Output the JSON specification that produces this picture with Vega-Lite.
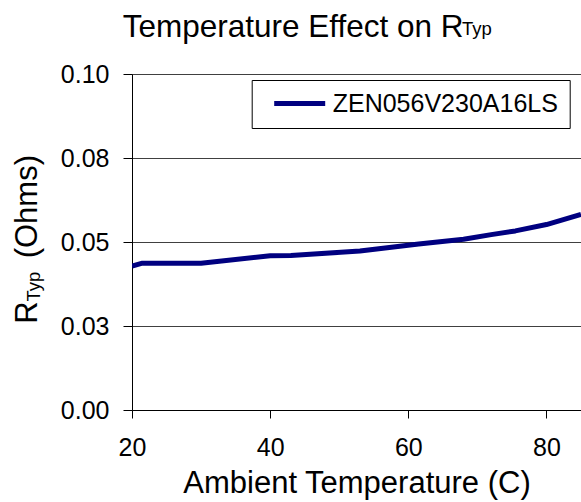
{
  "$schema": "https://vega.github.io/schema/vega-lite/v6.json",
  "width": 449,
  "height": 336,
  "autosize": "none",
  "padding": {"left": 132, "top": 74, "right": 0, "bottom": 92},
  "background": "white",
  "title": {
    "text": "Temperature Effect on R",
    "subtitle": "\u200b\u00a0\u00a0\u00a0\u00a0\u00a0\u00a0\u00a0\u00a0\u00a0\u00a0\u00a0\u00a0\u00a0\u00a0\u00a0\u00a0\u00a0\u00a0\u00a0\u00a0\u00a0\u00a0\u00a0\u00a0\u00a0\u00a0\u00a0\u00a0\u00a0\u00a0\u00a0\u00a0\u00a0\u00a0\u00a0\u00a0\u00a0\u00a0\u00a0\u00a0\u00a0\u00a0\u00a0\u00a0\u00a0\u00a0\u00a0\u00a0\u00a0\u00a0\u00a0\u00a0\u00a0\u00a0\u00a0\u00a0\u00a0\u00a0\u00a0\u00a0\u00a0\u00a0\u00a0\u00a0\u00a0\u00a0Typ",
    "anchor": "start",
    "frame": "group",
    "dx": -9.3,
    "offset": 18.5,
    "font": "Liberation Sans",
    "fontSize": 31.5,
    "fontWeight": "normal",
    "color": "black",
    "subtitleFont": "Liberation Sans",
    "subtitleFontSize": 18.5,
    "subtitleColor": "black",
    "subtitlePadding": -23.4
  },
  "config": {
    "font": "Liberation Sans",
    "view": {"stroke": "#808080", "strokeWidth": 1},
    "axis": {
      "labelFont": "Liberation Sans",
      "titleFont": "Liberation Sans",
      "labelColor": "black",
      "titleColor": "black",
      "domainColor": "black",
      "tickColor": "black",
      "titleFontWeight": "normal"
    },
    "legend": {
      "labelFont": "Liberation Sans"
    }
  },
  "data": {
    "values": [
      {"temp": 20, "r": 0.0428, "series": "ZEN056V230A16LS"},
      {"temp": 21.5, "r": 0.0437, "series": "ZEN056V230A16LS"},
      {"temp": 30, "r": 0.0437, "series": "ZEN056V230A16LS"},
      {"temp": 40, "r": 0.0459, "series": "ZEN056V230A16LS"},
      {"temp": 43, "r": 0.0460, "series": "ZEN056V230A16LS"},
      {"temp": 53, "r": 0.0473, "series": "ZEN056V230A16LS"},
      {"temp": 61.5, "r": 0.0494, "series": "ZEN056V230A16LS"},
      {"temp": 68, "r": 0.0508, "series": "ZEN056V230A16LS"},
      {"temp": 72, "r": 0.0522, "series": "ZEN056V230A16LS"},
      {"temp": 75.5, "r": 0.0533, "series": "ZEN056V230A16LS"},
      {"temp": 80, "r": 0.0552, "series": "ZEN056V230A16LS"},
      {"temp": 85, "r": 0.0582, "series": "ZEN056V230A16LS"}
    ]
  },
  "resolve": {"axis": {"y": "independent"}},
  "layer": [
    {
      "mark": {"type": "line", "strokeWidth": 5, "strokeJoin": "round", "strokeCap": "butt", "clip": true},
      "encoding": {
        "x": {
          "field": "temp",
          "type": "quantitative",
          "scale": {"domain": [20, 85], "nice": false, "zero": false},
          "axis": {
            "values": [20, 40, 60, 80],
            "grid": false,
            "tickSize": 8,
            "labelPadding": 17,
            "labelFontSize": 25,
            "labelFlush": false,
            "title": "Ambient Temperature (C)",
            "titleFontSize": 31,
            "titleBaseline": "alphabetic",
            "titleY": 82
          }
        },
        "y": {
          "field": "r",
          "type": "quantitative",
          "scale": {"domain": [0, 0.1], "nice": false, "zero": true},
          "axis": {
            "orient": "left",
            "values": [0, 0.025, 0.05, 0.075, 0.1],
            "labelExpr": "format(datum.value + 1e-9, '.2f')",
            "grid": true,
            "gridColor": "#404040",
            "gridWidth": 1,
            "tickSize": 9,
            "labelPadding": 14,
            "labelFontSize": 25,
            "labelFlush": false,
            "title": "R\u00a0\u00a0\u00a0\u00a0\u00a0(Ohms)",
            "titleFontSize": 31,
            "titleAngle": -90,
            "titleAlign": "left",
            "titleBaseline": "alphabetic",
            "titleX": -95.3,
            "titleY": 249.3
          }
        },
        "color": {
          "field": "series",
          "type": "nominal",
          "scale": {"range": ["#000080"]},
          "legend": {
            "title": null,
            "orient": "none",
            "legendX": 119.7,
            "legendY": 6,
            "padding": 11,
            "strokeColor": "black",
            "fillColor": "white",
            "symbolType": "stroke",
            "symbolSize": 2601,
            "symbolStrokeWidth": 5,
            "symbolOffset": 9,
            "clipHeight": 25,
            "labelFontSize": 25,
            "labelColor": "black",
            "labelOffset": 5,
            "labelLimit": 400
          }
        }
      }
    },
    {
      "mark": {"type": "line", "opacity": 0, "clip": true},
      "encoding": {
        "x": {"field": "temp", "type": "quantitative"},
        "y": {
          "field": "r",
          "type": "quantitative",
          "axis": {
            "orient": "left",
            "labels": false,
            "ticks": false,
            "domain": false,
            "grid": false,
            "title": "Typ",
            "titleFontSize": 18.5,
            "titleAngle": -90,
            "titleAlign": "left",
            "titleBaseline": "alphabetic",
            "titleX": -93,
            "titleY": 227
          }
        }
      }
    }
  ]
}
